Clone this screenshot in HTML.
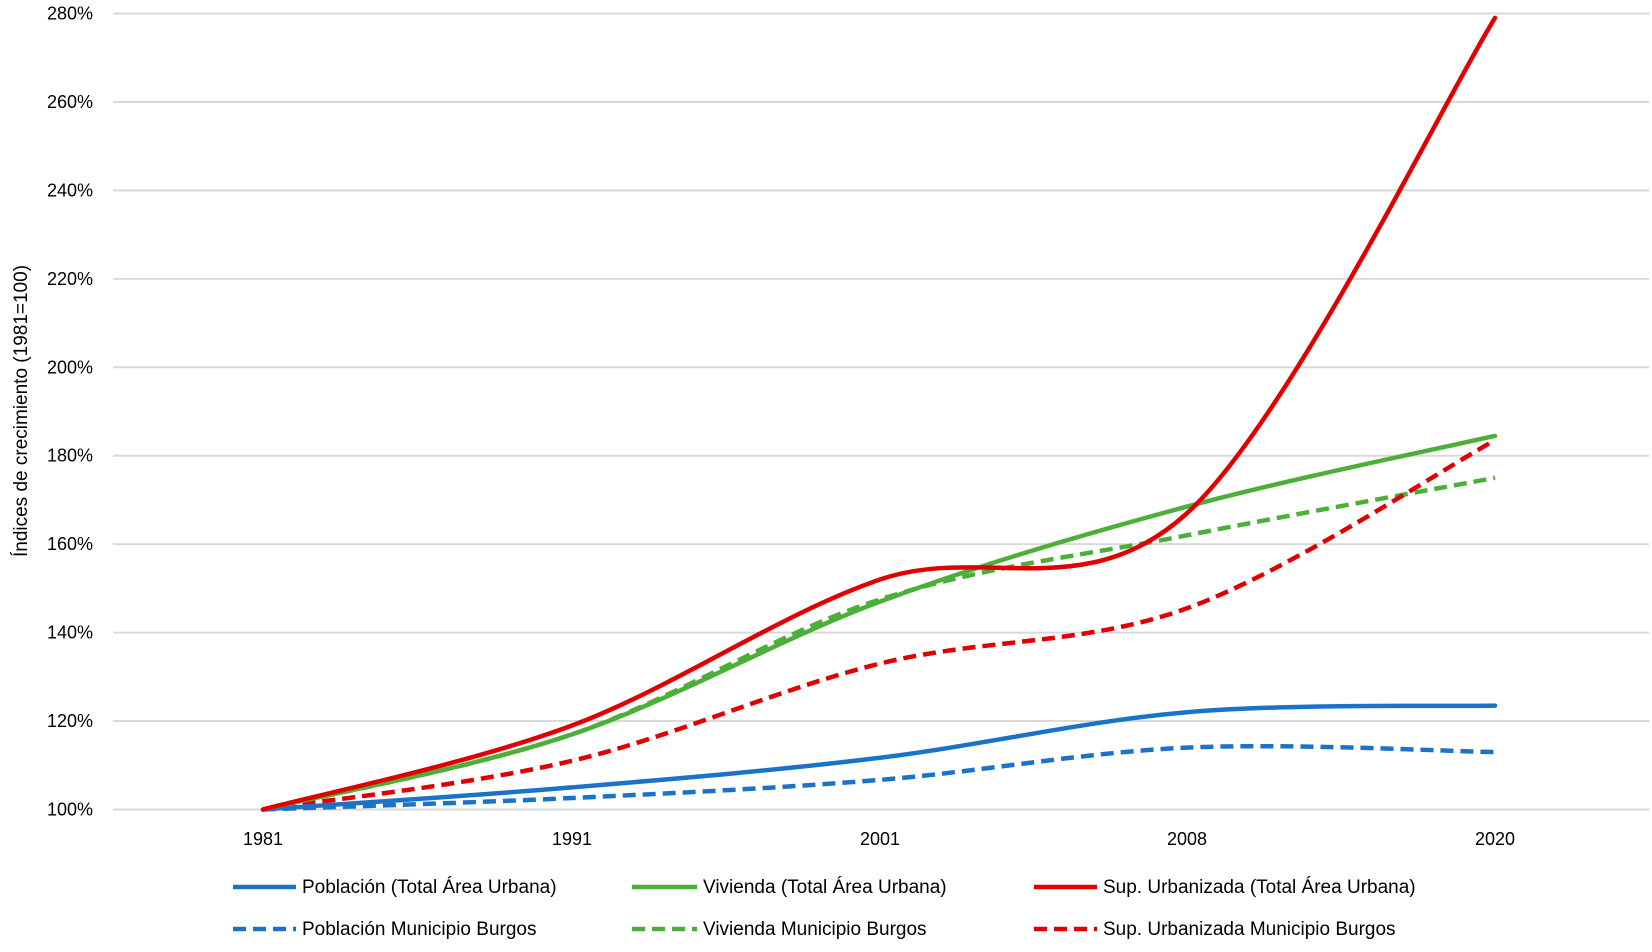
<!DOCTYPE html>
<html><head><meta charset="utf-8"><style>
html,body{margin:0;padding:0;background:#fff;}
svg{display:block;font-family:"Liberation Sans",sans-serif;}
</style></head><body>
<svg id="c" width="1652" height="952" viewBox="0 0 1652 952" xmlns="http://www.w3.org/2000/svg">
<g id="grid" stroke="#d9d9d9" stroke-width="2"></g>
<g id="ylab" font-size="18" fill="#000" text-anchor="end"></g>
<g id="xlab" font-size="18" fill="#000" text-anchor="middle"></g>
<text transform="translate(27,411) rotate(-90)" font-size="19" text-anchor="middle">Índices de crecimiento (1981=100)</text>
<g id="series" fill="none" stroke-width="4.5"></g>
<g font-size="19" fill="#000">
<line x1="233" y1="887" x2="296" y2="887" stroke="#1a73c9" stroke-width="4.5"/>
<text x="302" y="893">Población (Total Área Urbana)</text>
<line x1="632" y1="887" x2="697" y2="887" stroke="#4caf3a" stroke-width="4.5"/>
<text x="703" y="893">Vivienda (Total Área Urbana)</text>
<line x1="1034" y1="887" x2="1097" y2="887" stroke="#e00000" stroke-width="4.5"/>
<text x="1103" y="893">Sup. Urbanizada (Total Área Urbana)</text>
<line x1="233" y1="929" x2="296" y2="929" stroke="#1a73c9" stroke-width="4.5" stroke-dasharray="13,7"/>
<text x="302" y="935">Población Municipio Burgos</text>
<line x1="632" y1="929" x2="697" y2="929" stroke="#4caf3a" stroke-width="4.5" stroke-dasharray="13,7"/>
<text x="703" y="935">Vivienda Municipio Burgos</text>
<line x1="1034" y1="929" x2="1097" y2="929" stroke="#e00000" stroke-width="4.5" stroke-dasharray="13,7"/>
<text x="1103" y="935">Sup. Urbanizada Municipio Burgos</text>
</g>
</svg>
<script>
var NS="http://www.w3.org/2000/svg";
function Y(v){return 809.5-(v-100)*(796/180);}
var xs=[263,572,880,1187,1495];
var g=document.getElementById('grid'),yl=document.getElementById('ylab'),xl=document.getElementById('xlab');
function el(p,t,a,txt){var e=document.createElementNS(NS,t);for(var k in a)e.setAttribute(k,a[k]);if(txt)e.textContent=txt;p.appendChild(e);return e;}
for(var v=100;v<=280;v+=20){var y=Y(v);el(g,'line',{x1:113,x2:1649,y1:y,y2:y});el(yl,'text',{x:93,y:y+6},v+'%');}
['1981','1991','2001','2008','2020'].forEach(function(t,i){el(xl,'text',{x:xs[i],y:845},t);});
var S=document.getElementById('series');
function path(vals){var p=vals.map(function(v,i){return [xs[i],Y(v)];});var d='M'+p[0][0]+','+p[0][1];
for(var i=0;i<p.length-1;i++){var p0=p[i-1]||p[i],p1=p[i],p2=p[i+1],p3=p[i+2]||p[i+1];var t=1/6;
d+=' C'+(p1[0]+(p2[0]-p0[0])*t)+','+(p1[1]+(p2[1]-p0[1])*t)+' '+(p2[0]-(p3[0]-p1[0])*t)+','+(p2[1]-(p3[1]-p1[1])*t)+' '+p2[0]+','+p2[1];}
return d;}
var data=[
[[100,102.6,106.7,114,113],'#1a73c9',1],
[[100,117,147.5,162,175],'#4caf3a',1],
[[100,111,133,145.5,183.5],'#e00000',1],
[[100,105,111.7,122,123.5],'#1a73c9',0],
[[100,117,147,168.5,184.5],'#4caf3a',0],
[[100,119,152,167,279],'#e00000',0]];
data.forEach(function(s){var a={d:path(s[0]),stroke:s[1],'stroke-linecap':s[2]?'butt':'round'};if(s[2])a['stroke-dasharray']='13,7';el(S,'path',a);});
</script>
</body></html>
